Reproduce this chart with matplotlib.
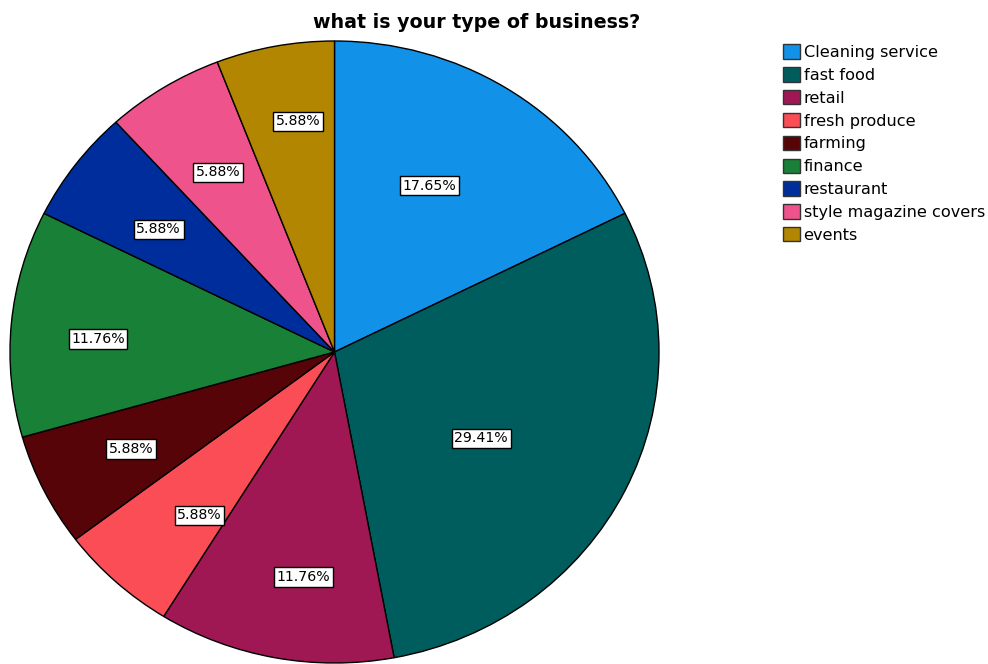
import matplotlib.pyplot as plt
import numpy as np

# respondents per type of business (n = 17)
categories = ['Cleaning service', 'fast food', 'retail', 'fresh produce', 'farming',
              'finance', 'restaurant', 'style magazine covers', 'events']
counts = [3, 5, 2, 1, 1, 2, 1, 1, 1]
pct_labels = ['17.65%', '29.41%', '11.76%', '5.88%', '5.88%',
              '11.76%', '5.88%', '5.88%', '5.88%']
colors = ['#1192E8', '#005D5D', '#9F1853', '#FA4D56', '#570408',
          '#198038', '#002D9C', '#EE538B', '#B28600']
# radius / angle shift at which each percentage box sits
label_r = [0.61, 0.53, 0.73, 0.67, 0.70, 0.73, 0.67, 0.68, 0.75]
label_shift = [3, -5, 3, 4, 0, 2, 1, 0, -2]

plt.rcParams['font.family'] = ['DejaVu Sans']

fig = plt.figure(figsize=(9.88, 6.64), dpi=100)
ax = fig.add_axes([10/988, 1 - 663/664, 649/988, 622/664])

wedges, _ = ax.pie(counts, colors=colors, startangle=90, counterclock=False,
                   radius=1.0, wedgeprops=dict(edgecolor='black', linewidth=1))
ax.set_aspect('auto')
ax.set_xlim(-1.0, 1.0)
ax.set_ylim(-1.0, 1.0)
ax.axis('off')

for w, txt, r, s in zip(wedges, pct_labels, label_r, label_shift):
    mid = np.deg2rad((w.theta1 + w.theta2) / 2 + s)
    ax.text(r * np.cos(mid), r * np.sin(mid), txt, ha='center', va='center', fontsize=10.2,
            bbox=dict(boxstyle='square,pad=0.18', facecolor='white', edgecolor='black', linewidth=1))

fig.text(477/988, 1 - 22/664, 'what is your type of business?', ha='center', va='center',
         fontsize=13.7, fontweight='bold')

leg = fig.legend(wedges, categories, loc='upper left', bbox_to_anchor=(777/988, 1 - 38/664),
                 frameon=False, fontsize=11.6, handlelength=1.0, handleheight=1.0,
                 handletextpad=0.25, labelspacing=0.44, borderaxespad=0)
for h in leg.legend_handles:
    h.set_edgecolor('#333333')
    h.set_linewidth(1)

fig.savefig('out.png', dpi=100)
